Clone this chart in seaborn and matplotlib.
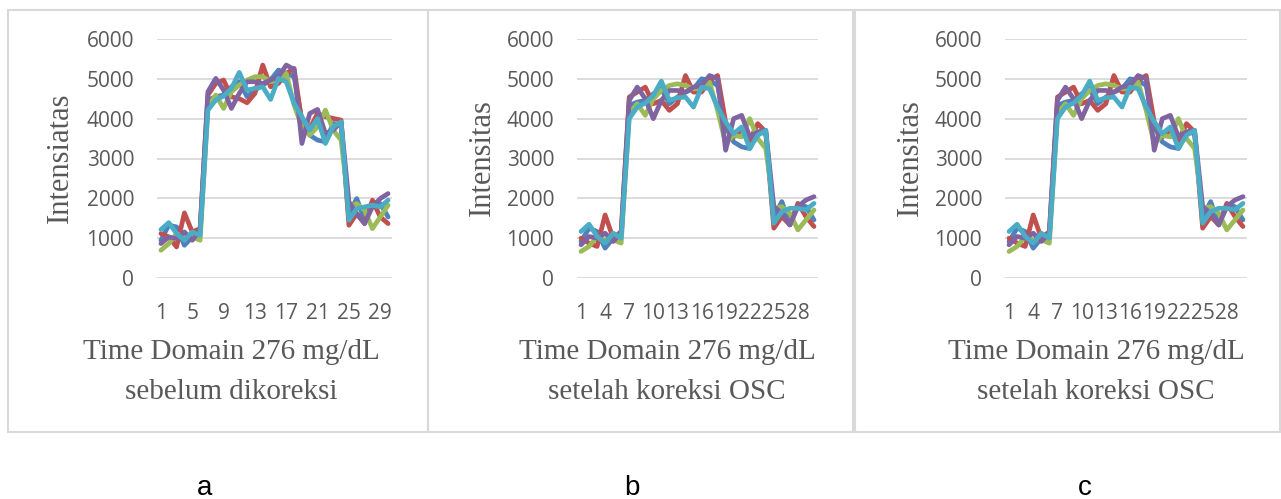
import pandas as pd
import matplotlib
matplotlib.use("Agg")
import matplotlib.pyplot as plt
import seaborn as sns
from matplotlib.patches import Rectangle

# x positions (time samples)
x = list(range(1, 31))
series_names = ['Seri 1', 'Seri 2', 'Seri 3', 'Seri 4', 'Seri 5']
colors = ['#4F81BD', '#C0504D', '#9BBB59', '#8064A2', '#4BACC6']

# Panel a: sebelum dikoreksi
a_blue = [947, 1324, 1282, 821, 1030, 1115, 4467, 4550, 4592, 4800, 4927, 4550, 4718, 4843, 4970,
          5220, 5137, 5053, 3964, 3587, 3461, 3419, 3880, 3838, 1617, 1994, 1450, 1911, 1869, 1533]
a_red = [1115, 1030, 780, 1634, 1156, 1240, 4592, 4885, 4970, 4550, 4500, 4400, 4634, 5346, 4800,
         4885, 5137, 5262, 3900, 3750, 4131, 4048, 4005, 3964, 1324, 1617, 1366, 1953, 1533, 1366]
a_green = [696, 863, 1115, 1030, 1030, 947, 4299, 4592, 4257, 4676, 4843, 4970, 5053, 5053, 4927,
           4970, 5137, 4341, 3796, 3587, 3796, 4215, 3712, 3461, 1785, 1869, 1701, 1240, 1533, 1827]
a_purple = [863, 1030, 989, 1156, 947, 1198, 4676, 5011, 4718, 4257, 4634, 4927, 4927, 4885, 4970,
            5053, 5346, 5237, 3377, 4131, 4232, 3628, 3712, 3922, 1911, 1617, 1366, 1785, 1994, 2120]
a_cyan = [1215, 1390, 1115, 947, 1156, 1070, 4215, 4467, 4567, 4760, 5162, 4718, 4760, 4800, 4483,
          5011, 4927, 4383, 4048, 3712, 4005, 3377, 3796, 3922, 1450, 1743, 1785, 1827, 1785, 1953]

# Panel b: setelah koreksi OSC
b_blue = [917, 1250, 1167, 750, 1000, 1042, 4333, 4417, 4458, 4625, 4750, 4375, 4542, 4667, 4750,
          5000, 4958, 4833, 3792, 3417, 3292, 3250, 3667, 3625, 1542, 1917, 1333, 1833, 1792, 1458]
b_red = [1000, 875, 792, 1583, 1000, 1167, 4542, 4667, 4792, 4375, 4458, 4208, 4375, 5083, 4667,
         4667, 4958, 5083, 3917, 3542, 3708, 3458, 3875, 3667, 1250, 1542, 1333, 1875, 1542, 1292]
b_green = [667, 792, 1042, 958, 958, 875, 4125, 4375, 4083, 4500, 4708, 4833, 4875, 4833, 4750,
           4750, 4917, 4208, 3375, 3583, 3542, 4000, 3500, 3250, 1750, 1792, 1625, 1208, 1458, 1708]
b_purple = [833, 1042, 1000, 1125, 917, 1125, 4458, 4792, 4500, 4000, 4458, 4708, 4708, 4667, 4792,
            4833, 5083, 5000, 3208, 4000, 4083, 3542, 3667, 3708, 1792, 1625, 1333, 1792, 1958, 2042]
b_cyan = [1167, 1350, 1042, 875, 1125, 1000, 4000, 4292, 4392, 4583, 4942, 4458, 4525, 4542, 4292,
          4792, 4750, 4292, 3917, 3625, 3792, 3250, 3583, 3708, 1375, 1667, 1750, 1750, 1708, 1875]

# Panel c: setelah koreksi OSC (same curves as b)
c_blue, c_red, c_green, c_purple, c_cyan = b_blue, b_red, b_green, b_purple, b_cyan

ylabels = ['Intensiatas', 'Intensitas', 'Intensitas']
xlabel_line1 = 'Time Domain 276 mg/dL'
xlabel_line2 = ['sebelum dikoreksi', 'setelah koreksi OSC', 'setelah koreksi OSC']
panel_letters = ['a', 'b', 'c']
tick_steps = [4, 3, 3]


def long_df(blue, red, green, purple, cyan):
    rows = []
    for name, vals in zip(series_names, [blue, red, green, purple, cyan]):
        for xi, v in zip(x, vals):
            rows.append({'x': xi, 'val': v, 'series': name})
    return pd.DataFrame(rows)


panels = [long_df(a_blue, a_red, a_green, a_purple, a_cyan),
          long_df(b_blue, b_red, b_green, b_purple, b_cyan),
          long_df(c_blue, c_red, c_green, c_purple, c_cyan)]

sns.set_style("white")
plt.rcParams['font.family'] = ['Open Sans', 'DejaVu Sans']

W, H = 1281, 499
fig = plt.figure(figsize=(W / 100, H / 100), dpi=100)

# layout in pixels
boxes = [(8, 10, 428, 432), (428, 10, 853, 432), (855, 10, 1280, 432)]
plot_x = [(157, 392), (577, 818), (1005, 1247)]
plot_top, plot_bot = 39, 278
ylabel_x = [60, 482, 910]
xlabel_cx = [231, 667, 1096]
letter_x = [205, 632, 1085]
gray = '#595959'
grid = '#D9D9D9'

for i, df in enumerate(panels):
    x0, y0, x1, y1 = boxes[i]
    fig.add_artist(Rectangle((x0 / W, 1 - y1 / H), (x1 - x0) / W, (y1 - y0) / H,
                             transform=fig.transFigure, fill=False,
                             edgecolor=grid, linewidth=1.5))

    px0, px1 = plot_x[i]
    ax = fig.add_axes([px0 / W, 1 - plot_bot / H, (px1 - px0) / W, (plot_bot - plot_top) / H])
    ax.set_facecolor('none')
    sns.lineplot(data=df, x='x', y='val', hue='series', hue_order=series_names,
                 palette=colors, linewidth=3.4, legend=False, sort=False,
                 estimator=None, ax=ax, solid_joinstyle='round', solid_capstyle='round')
    ax.set_xlim(0.5, 30.5)
    ax.set_ylim(0, 6000)
    ax.set_yticks(range(0, 6001, 1000))
    ax.set_xticks(x[::tick_steps[i]])
    ax.yaxis.grid(True, color=grid, linewidth=1.3)
    ax.set_axisbelow(True)
    for s in ax.spines.values():
        s.set_visible(False)
    ax.tick_params(axis='y', length=0, pad=16.5, labelsize=15, labelcolor=gray)
    ax.tick_params(axis='x', length=0, pad=18, labelsize=15, labelcolor=gray)
    ax.set_xlabel('')
    ax.set_ylabel('')

    fig.text(ylabel_x[i] / W, 1 - 158 / H, ylabels[i], rotation=90, ha='center', va='center',
             fontsize=22, color=gray, family=['Liberation Serif'])
    fig.text(xlabel_cx[i] / W, 1 - 359 / H, xlabel_line1, ha='center', va='baseline',
             fontsize=21, color=gray, family=['Liberation Serif'])
    fig.text(xlabel_cx[i] / W, 1 - 399 / H, xlabel_line2[i], ha='center', va='baseline',
             fontsize=21, color=gray, family=['Liberation Serif'])
    fig.text(letter_x[i] / W, 1 - 495 / H, panel_letters[i], ha='center', va='baseline',
             fontsize=20, color='black', family=['Liberation Sans'])

fig.savefig('out.png', dpi=100, facecolor='white')
